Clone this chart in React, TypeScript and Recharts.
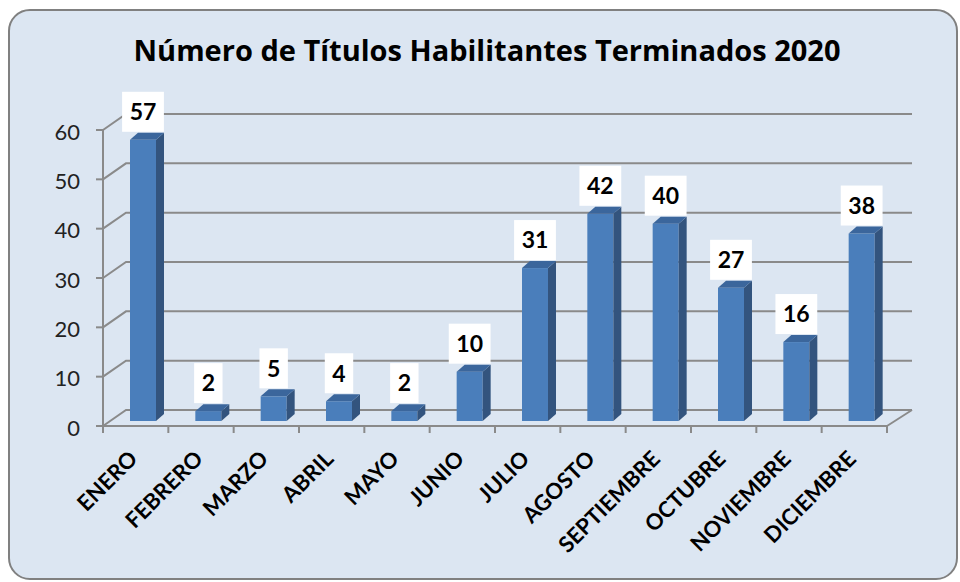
import React from 'react';
import { BarChart, Bar, XAxis, YAxis, CartesianGrid, LabelList } from 'recharts';

const meses = [
  'ENERO', 'FEBRERO', 'MARZO', 'ABRIL', 'MAYO', 'JUNIO',
  'JULIO', 'AGOSTO', 'SEPTIEMBRE', 'OCTUBRE', 'NOVIEMBRE', 'DICIEMBRE',
];
const titulos = [57, 2, 5, 4, 2, 10, 31, 42, 40, 27, 16, 38];
const yTicks = [0, 10, 20, 30, 40, 50, 60];

const data = meses.map((mes, i) => ({ mes, valor: titulos[i] }));

// fake 3D: back wall offset and bar depth
const WALL_DX = 23;
const WALL_DY = -16;
const BAR_DX = 7;
const BAR_DY = -5;
const DEPTH_X = 8;
const DEPTH_Y = -7;
const BAND = 784 / meses.length;
const FONT = 'Lato, "Open Sans", sans-serif';
const GRID = '#8a8a8a';

const Bar3D = (props: any) => {
  const { x, y, width, height } = props;
  const fx = x + BAR_DX;
  const fy = y + BAR_DY;
  return (
    <g>
      <rect x={fx} y={fy} width={width} height={height} fill="#4a7ebb" />
      <polygon
        points={`${fx + width},${fy} ${fx + width + DEPTH_X},${fy + DEPTH_Y} ${fx + width + DEPTH_X},${fy + height + DEPTH_Y} ${fx + width},${fy + height}`}
        fill="#33547e"
      />
      <polygon
        points={`${fx},${fy} ${fx + DEPTH_X},${fy + DEPTH_Y} ${fx + width + DEPTH_X},${fy + DEPTH_Y} ${fx + width},${fy}`}
        fill="#3b669c"
      />
    </g>
  );
};

const renderLabel = (props: any) => {
  const { x, y, width, value } = props;
  const digits = String(value).length;
  const w = digits * 13.4 + 15;
  const h = 40;
  const cx = x + width / 2 + BAR_DX;
  const bottom = y + BAR_DY - 8;
  return (
    <g>
      <rect x={cx - w / 2} y={bottom - h} width={w} height={h} fill="#ffffff" />
      <text
        x={cx}
        y={bottom - h / 2}
        dy="0.36em"
        textAnchor="middle"
        fontFamily={FONT}
        fontWeight={700}
        fontSize={23}
        fill="#000"
      >
        {value}
      </text>
    </g>
  );
};

const MesTick = (props: any) => {
  const { x, y, payload, index } = props;
  return (
    <g>
      <line x1={x - BAND / 2} y1={y} x2={x - BAND / 2} y2={y + 7} stroke={GRID} strokeWidth={2} />
      {index === meses.length - 1 && (
        <line x1={x + BAND / 2} y1={y} x2={x + BAND / 2} y2={y + 7} stroke={GRID} strokeWidth={2} />
      )}
      <text
        transform={`translate(${x - 8},${y + 23}) rotate(-45)`}
        textAnchor="end"
        dy="0.72em"
        fontFamily={FONT}
        fontWeight={700}
        fontSize={22}
        fill="#000"
      >
        {payload.value}
      </text>
    </g>
  );
};

const WallLine = (props: any) => {
  const { x1, y1, x2, index } = props;
  const isFloor = index === 0;
  const by = y1 + WALL_DY;
  return (
    <g key={`wall-${index}`}>
      <polyline
        points={`${x1},${y1} ${x1 + WALL_DX},${by} ${x2 + WALL_DX + 2},${by}`}
        fill="none"
        stroke={GRID}
        strokeWidth={2}
      />
      {isFloor && (
        <line x1={x2} y1={y1} x2={x2 + WALL_DX + 2} y2={by} stroke={GRID} strokeWidth={2} />
      )}
    </g>
  );
};

export default function App() {
  return (
    <div style={{ position: 'fixed', left: 0, top: 0, width: 960, height: 582, background: '#fff' }}>
      <div
        style={{
          position: 'absolute',
          left: 8,
          top: 9,
          width: 950,
          height: 571,
          boxSizing: 'border-box',
          border: '2.5px solid #808080',
          borderRadius: 22,
          background: '#dce6f2',
        }}
      />
      <div
        style={{
          position: 'absolute',
          left: 487,
          top: 33,
          transform: 'translateX(-50%)',
          whiteSpace: 'nowrap',
          fontFamily: '"Open Sans", Lato, sans-serif',
          fontWeight: 700,
          fontSize: 29,
          lineHeight: 1.2,
          color: '#000',
        }}
      >
        Número de Títulos Habilitantes Terminados 2020
      </div>
      <div style={{ position: 'absolute', left: 0, top: 0 }}>
        <BarChart
          width={960}
          height={582}
          data={data}
          margin={{ top: 130, right: 73, bottom: 56, left: 23 }}
        >
          <CartesianGrid vertical={false} horizontal={WallLine} />
          <XAxis
            dataKey="mes"
            interval={0}
            height={100}
            tickLine={false}
            tickSize={0}
            tickMargin={0}
            axisLine={{ stroke: GRID, strokeWidth: 2 }}
            tick={<MesTick />}
          />
          <YAxis
            domain={[0, 60]}
            ticks={yTicks}
            width={80}
            tickSize={7}
            tickMargin={16}
            axisLine={{ stroke: GRID, strokeWidth: 2 }}
            tickLine={{ stroke: GRID, strokeWidth: 2 }}
            tick={{ fontFamily: FONT, fontSize: 22, fill: '#222', dy: 2 }}
          />
          <Bar dataKey="valor" barSize={26} shape={<Bar3D />} isAnimationActive={false}>
            <LabelList dataKey="valor" content={renderLabel} />
          </Bar>
        </BarChart>
      </div>
    </div>
  );
}
